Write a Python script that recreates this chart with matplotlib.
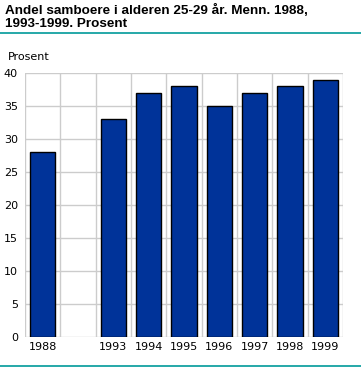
import matplotlib
matplotlib.use("Agg")
import matplotlib.pyplot as plt
from matplotlib.lines import Line2D

# data
years = ["1988", "", "1993", "1994", "1995", "1996", "1997", "1998", "1999"]
shares = [28, None, 33, 37, 38, 35, 37, 38, 39]
y_ticks = [0, 5, 10, 15, 20, 25, 30, 35, 40]

fig = plt.figure(figsize=(3.61, 3.67), dpi=100)
ax = fig.add_axes([0.069, 0.082, 0.881, 0.719])

pos = [i for i, v in enumerate(shares) if v is not None]
vals = [v for v in shares if v is not None]
ax.bar(pos, vals, width=0.72, color="#003399", edgecolor="black", linewidth=1.0, zorder=3)

ax.set_xlim(-0.5, len(years) - 0.5)
ax.set_ylim(0, 40)
ax.set_xticks(range(len(years)))
ax.set_xticklabels(years, fontsize=8)
ax.set_xticks([i - 0.5 for i in range(len(years) + 1)], minor=True)
ax.set_yticks(y_ticks)
ax.set_yticklabels([str(t) for t in y_ticks], fontsize=8)
ax.tick_params(axis="both", which="both", length=0)
ax.tick_params(axis="y", pad=5)
ax.tick_params(axis="x", pad=4)

ax.grid(axis="y", which="major", color="#cccccc", linewidth=1.0, zorder=0)
ax.grid(axis="x", which="minor", color="#cccccc", linewidth=1.0, zorder=0)
ax.set_axisbelow(True)
for s in ax.spines.values():
    s.set_visible(False)

fig.text(0.014, 0.99, "Andel samboere i alderen 25-29 år. Menn. 1988,\n1993-1999. Prosent",
         fontsize=9.7, fontweight="bold", family="Liberation Sans",
         va="top", ha="left", linespacing=1.2)
fig.text(0.022, 0.845, "Prosent", fontsize=8, va="center", ha="left")

fig.add_artist(Line2D([0, 1], [0.911, 0.911], color="#009999", linewidth=1.2))
fig.add_artist(Line2D([0, 1], [0.004, 0.004], color="#009999", linewidth=1.2))

fig.savefig("out.png", dpi=100)
